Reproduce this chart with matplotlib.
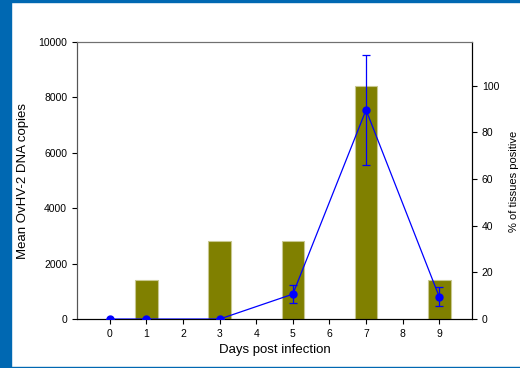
import matplotlib
matplotlib.use('Agg')
import matplotlib.pyplot as plt
from matplotlib.patches import Rectangle

plt.rcParams['font.family'] = ['Liberation Sans', 'DejaVu Sans']

# bars: % of tissues positive (right axis)
bar_days = [1, 3, 5, 7, 9]
pct_positive = [16.7, 33.3, 33.3, 100.0, 16.7]

# line: mean DNA copies (left axis)
line_days = [0, 1, 3, 5, 7, 9]
mean_copies = [0, 0, 0, 900, 7545, 805]
err_low = [0, 0, 0, 310, 1985, 335]
err_high = [0, 0, 0, 330, 1985, 335]

x_ticks = list(range(10))

fig = plt.figure(figsize=(5.2, 3.68), dpi=100)
fig.patch.set_facecolor('white')

ax = fig.add_axes([0.148, 0.133, 0.76, 0.753])
ax2 = ax.twinx()

ax2.bar(bar_days, pct_positive, width=0.62, color='#808000',
        edgecolor='#c8c890', linewidth=0.8)
ax2.set_ylim(0, 118.8)
ax2.set_yticks([0, 20, 40, 60, 80, 100])
# right label sits close to the edge of the picture
fig.text(514 / 520, 1 - 181 / 368, '% of tissues positive', rotation=90,
         ha='center', va='center', fontsize=8)

ax.errorbar(line_days, mean_copies, yerr=[err_low, err_high], color='#0000ff',
            marker='o', markersize=5, linewidth=0.9, elinewidth=0.9,
            capsize=3, capthick=0.9, zorder=5)
ax.set_zorder(ax2.get_zorder() + 1)
ax.patch.set_visible(False)

ax.set_xlim(-0.9, 9.9)
ax.set_ylim(0, 10000)
ax.set_yticks(range(0, 10001, 2000))
ax.set_xticks(x_ticks)
ax.set_xlabel('Days post infection', fontsize=9.5)
ax.set_ylabel('Mean OvHV-2 DNA copies', fontsize=9.5, labelpad=7)

for a in (ax, ax2):
    a.tick_params(labelsize=7.5, length=3.5, width=0.8, direction='out')
    a.spines['top'].set_color('#707070')
    a.spines['left'].set_color('#555555')
    a.spines['bottom'].set_color('black')
    a.spines['right'].set_color('black')

# blue slide frame
fig.patches.append(Rectangle((0, 0), 11 / 520, 1, transform=fig.transFigure,
                             color='#0068b2', zorder=0))
fig.patches.append(Rectangle((0, 1 - 2 / 368), 1, 2 / 368, transform=fig.transFigure,
                             color='#0068b2', zorder=0))
fig.patches.append(Rectangle((0, 0), 1, 1.5 / 368, transform=fig.transFigure,
                             color='#0068b2', zorder=0))

fig.savefig('out.png', dpi=100)
